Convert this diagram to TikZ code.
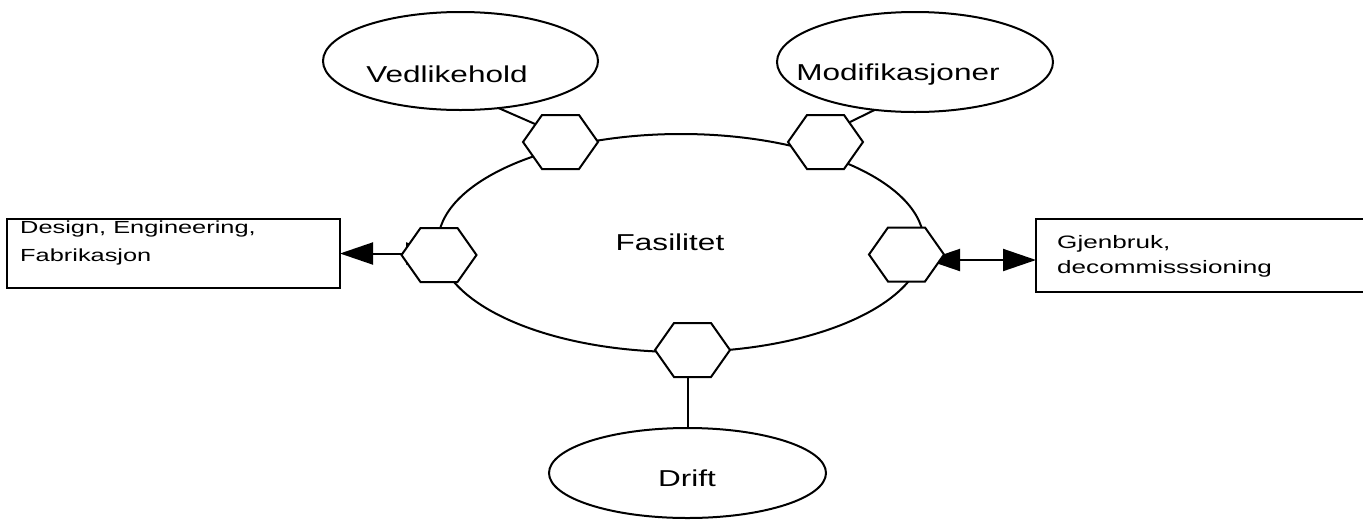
\documentclass[tikz,border=0pt]{standalone}
\usepackage{fontspec}
\setmainfont{Liberation Sans}
\newfontfamily\wfont[FakeStretch=1.37]{Liberation Sans}
\newfontfamily\bxfont[FakeStretch=1.45]{Liberation Sans}
\usetikzlibrary{shapes.geometric,arrows.meta,calc}
\tikzset{
  ln/.style={line width=2pt},
  ell/.style={ellipse, draw, line width=2pt, fill=white, inner sep=0pt, outer sep=0pt},
  hexbox/.style={minimum width=75pt, minimum height=54pt, inner sep=0pt, outer sep=0pt},
  hexline/.style={draw, fill=white, line width=2pt, line join=miter},
  boxn/.style={draw, line width=2pt, fill=white, inner sep=0pt, outer sep=0pt, anchor=north west},
  ellfont/.style={font=\wfont\fontsize{23}{27}\selectfont, inner sep=0pt, anchor=base},
  arr/.style={line width=2pt, {Triangle[length=33pt,width=22pt]}-{Triangle[length=33pt,width=22pt]}},
}
\newcommand\hexnode[2]{\node[hexbox] (#1) at (#2) {};}
\newcommand\hexdraw[1]{\path[hexline] (#1.west) -- ([xshift=19pt]#1.north west) -- ([xshift=-19pt]#1.north east) -- (#1.east) -- ([xshift=-19pt]#1.south east) -- ([xshift=19pt]#1.south west) -- cycle;}
\begin{document}
\begin{tikzpicture}[x=1pt,y=-1pt]
\clip (0,0) rectangle (1363,523);
\fill[white] (0,0) rectangle (1363,523);
% central ellipse
\node[ell, minimum width=486pt, minimum height=218pt,
  label={[ellfont, xshift=-11pt, yshift=1pt]center:Fasilitet}] (fas) at (681,243) {};
% outer ellipses
\node[ell, minimum width=275pt, minimum height=98pt,
  label={[ellfont, xshift=-13.5pt, yshift=-13pt]center:Vedlikehold}] (ved) at (460.5,61) {};
\node[ell, minimum width=276pt, minimum height=100pt,
  label={[ellfont, xshift=-17pt, yshift=-13pt]center:Modifikasjoner}] (mod) at (915,62) {};
\node[ell, minimum width=277pt, minimum height=90pt,
  label={[ellfont, xshift=-0.5pt, yshift=-5pt]center:Drift}] (drift) at (687.5,473) {};
% boxes
\node[boxn, minimum width=333pt, minimum height=69pt,
  label={[font=\bxfont\fontsize{17.5}{28.4}\selectfont, align=left, inner sep=0pt, anchor=north west, xshift=13pt, yshift=-1.7pt]north west:Design, Engineering,\\Fabrikasjon}] (dbox) at (7,219) {};
\node[boxn, minimum width=400pt, minimum height=73pt,
  label={[font=\bxfont\fontsize{18}{25}\selectfont, align=left, inner sep=0pt, anchor=north west, xshift=21pt, yshift=-16pt]north west:Gjenbruk,\\decommisssioning}] (gbox) at (1036,219) {};
% hexagon positions
\hexnode{h1}{560.5,142}
\hexnode{h2}{825.5,142}
\hexnode{h3}{439,255}
\hexnode{h4}{906.5,254.5}
\hexnode{h5}{692.5,350}
% connectors
\draw[ln] (ved.-51) -- ($(h1.center)+(-25.5,-18)$);
\draw[ln] (mod.-130) -- ($(h2.center)+(24.5,-20)$);
\draw[ln] (drift.north) -- (drift.north |- h5.center);
\draw[arr] (dbox.east) -- (dbox.east -| h3.center);
\coordinate (rt) at ($(h4.center)+(20.5,5.5)$);
\draw[arr] (rt) -- (rt -| gbox.west);
% hexagons on top
\hexdraw{h1}
\hexdraw{h2}
\hexdraw{h3}
\hexdraw{h4}
\hexdraw{h5}
\end{tikzpicture}
\end{document}
